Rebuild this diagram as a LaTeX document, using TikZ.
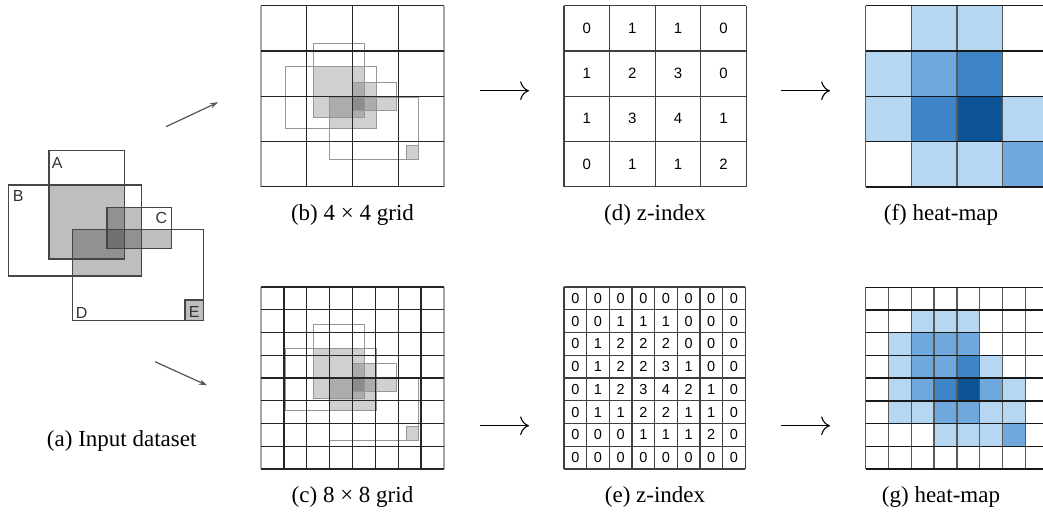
\documentclass[tikz,border=0pt]{standalone}
\usepackage{fontspec}
\setmainfont{Liberation Serif}
\newfontfamily\arialf{Liberation Sans}
\usetikzlibrary{arrows.meta}
\definecolor{hz0}{RGB}{255,255,255}
\definecolor{hz1}{RGB}{182,215,242}
\definecolor{hz2}{RGB}{111,168,220}
\definecolor{hz3}{RGB}{61,133,198}
\definecolor{hz4}{RGB}{11,83,148}
\definecolor{dsTwo}{RGB}{190,190,190}
\definecolor{dsThree}{RGB}{145,145,145}
\definecolor{dsFour}{RGB}{112,112,112}
\definecolor{dsLine}{RGB}{70,70,70}
\definecolor{grTwo}{RGB}{208,208,208}
\definecolor{grThree}{RGB}{172,172,172}
\definecolor{grFour}{RGB}{140,140,140}
\definecolor{grLine}{RGB}{150,150,150}
\definecolor{arrowgray}{RGB}{85,85,85}
\newcommand\drawoverlaps{%
  \fill[ovtwo] (49,185) rectangle (124.3,259);
  \fill[ovtwo] (107,207.7) rectangle (141.3,248.7);
  \fill[ovtwo] (72.3,229.3) rectangle (141.3,276);
  \fill[ovtwo] (107,229.3) rectangle (171.3,248.7);
  \fill[ovtwo] (185,300) rectangle (203.3,320.3);
  \fill[ovthree] (107,207.7) rectangle (124.3,248.7);
  \fill[ovthree] (72.3,229.3) rectangle (124.3,259);
  \fill[ovthree] (107,229.3) rectangle (141.3,248.7);
  \fill[ovfour] (107,229.3) rectangle (124.3,248.7);
  \draw[ovline] (49,150.7) rectangle (124.3,259);
  \draw[ovline] (8.7,185) rectangle (141.3,276);
  \draw[ovline] (107,207.7) rectangle (171.3,248.7);
  \draw[ovline] (72.3,229.3) rectangle (203.3,320.3);
  \draw[ovline] (185,300) rectangle (203.3,320.3);
}
\begin{document}
\begin{tikzpicture}[x=1pt,y=-1pt,
  captxt/.style={font=\fontsize{23}{27}\selectfont, inner sep=0pt},
  numbig/.style={font=\arialf\fontsize{15}{17}\selectfont, inner sep=0pt},
  num/.style={font=\arialf\fontsize{14.5}{17}\selectfont, inner sep=0pt},
  lbl/.style={font=\arialf\fontsize{16}{18}\selectfont, inner sep=0pt, text=black!80},
  gridline/.style={line width=1.3pt, draw=black!85},
  edgeline/.style={line width=1.1pt, draw=black!35},
  zline/.style={line width=1.3pt, draw=black!75},
  hline/.style={line width=1.4pt, draw=black!90},
  hvline/.style={line width=1.4pt, draw=black!65},
  diag/.style={draw=arrowgray, line width=1.2pt, -{Stealth[length=8pt,width=5.5pt]}},
  longarr/.style={draw=black, line width=1.1pt, -{To[scale=2.2]}}]
\clip (0,0) rectangle (1043,513);
\fill[white] (0,0) rectangle (1043,513);

% (a) input dataset
\begin{scope}[ovtwo/.style={fill=dsTwo}, ovthree/.style={fill=dsThree},
  ovfour/.style={fill=dsFour}, ovline/.style={draw=dsLine, line width=1.2pt}]
  \drawoverlaps
\end{scope}
\node[lbl] (labA) at (57.3,162.7) {A};
\node[lbl] (labB) at (18.3,195.7) {B};
\node[lbl] (labC) at (161.3,218.3) {C};
\node[lbl] (labD) at (81.7,312.7) {D};
\node[lbl] (labE) at (194.3,311.7) {E};
\node[captxt] (capa) at (121.7,441) {(a) Input dataset};

% (b) 4x4 grid
\begin{scope}[shift={(279.8,-59.6)}, scale=0.683,
  ovtwo/.style={fill=grTwo}, ovthree/.style={fill=grThree},
  ovfour/.style={fill=grFour}, ovline/.style={draw=grLine, line width=1.1pt}]
  \drawoverlaps
\end{scope}
\draw[edgeline] (261,5.7) -- (261,186.7) (444,5.7) -- (444,186.7);
\foreach \i in {0,...,4} \draw[gridline] (261,{5.7+\i*45.25}) -- (444,{5.7+\i*45.25});
\foreach \i in {1,...,3} \draw[gridline] ({261+\i*45.75},5.7) -- ({261+\i*45.75},186.7);
\node[captxt] (capb) at (352.5,215) {(b) 4 × 4 grid};

% (c) 8x8 grid
\begin{scope}[shift={(279.8,221.9)}, scale=0.683,
  ovtwo/.style={fill=grTwo}, ovthree/.style={fill=grThree},
  ovfour/.style={fill=grFour}, ovline/.style={draw=grLine, line width=1.1pt}]
  \drawoverlaps
\end{scope}
\draw[edgeline] (261,287) -- (261,469) (444,287) -- (444,469);
\foreach \i in {0,...,8} \draw[gridline] (261,{287+\i*22.75}) -- (444,{287+\i*22.75});
\foreach \i in {1,...,7} \draw[gridline] ({261+\i*22.875},287) -- ({261+\i*22.875},469);
\node[captxt] (capc) at (352.5,497) {(c) 8 × 8 grid};

% (d) z-index 4x4
\foreach \row [count=\r from 0] in {{0,1,1,0},{1,2,3,0},{1,3,4,1},{0,1,1,2}} {
  \foreach \v [count=\c from 0] in \row {
    \node[numbig] (zd-\r-\c) at ({564+(\c+0.5)*45.575},{5.7+(\r+0.5)*45.25}) {\v};
  }
}
\foreach \i in {0,...,4} \draw[zline] (564,{5.7+\i*45.25}) -- (746.3,{5.7+\i*45.25});
\foreach \i in {0,...,4} \draw[zline] ({564+\i*45.575},5.7) -- ({564+\i*45.575},186.7);
\node[captxt] (capd) at (655,215) {(d) z-index};

% (e) z-index 8x8
\foreach \row [count=\r from 0] in {{0,0,0,0,0,0,0,0},{0,0,1,1,1,0,0,0},{0,1,2,2,2,0,0,0},{0,1,2,2,3,1,0,0},{0,1,2,3,4,2,1,0},{0,1,1,2,2,1,1,0},{0,0,0,1,1,1,2,0},{0,0,0,0,0,0,0,0}} {
  \foreach \v [count=\c from 0] in \row {
    \node[num] (ze-\r-\c) at ({564+(\c+0.5)*22.65},{287+(\r+0.5)*22.75}) {\v};
  }
}
\foreach \i in {0,...,8} \draw[zline] (564,{287+\i*22.75}) -- (745.2,{287+\i*22.75});
\foreach \i in {0,...,8} \draw[zline] ({564+\i*22.65},287) -- ({564+\i*22.65},469);
\node[captxt] (cape) at (655,497) {(e) z-index};

% (f) heat-map 4x4
\foreach \row [count=\r from 0] in {{0,1,1,0},{1,2,3,0},{1,3,4,1},{0,1,1,2}} {
  \foreach \v [count=\c from 0] in \row {
    \fill[hz\v] ({865.7+\c*45.6},{5.7+\r*45.3}) rectangle ({865.7+(\c+1)*45.6},{5.7+(\r+1)*45.3});
  }
}
\foreach \i in {0,...,4} \draw[hvline] ({865.7+\i*45.6},5.7) -- ({865.7+\i*45.6},186.9);
\foreach \i in {0,...,4} \draw[hline] (865.7,{5.7+\i*45.3}) -- (1048.1,{5.7+\i*45.3});
\node[captxt] (capf) at (941,215) {(f) heat-map};

% (g) heat-map 8x8
\foreach \row [count=\r from 0] in {{0,0,0,0,0,0,0,0},{0,0,1,1,1,0,0,0},{0,1,2,2,2,0,0,0},{0,1,2,2,3,1,0,0},{0,1,2,3,4,2,1,0},{0,1,1,2,2,1,1,0},{0,0,0,1,1,1,2,0},{0,0,0,0,0,0,0,0}} {
  \foreach \v [count=\c from 0] in \row {
    \fill[hz\v] ({865.7+\c*22.8},{287.3+\r*22.7}) rectangle ({865.7+(\c+1)*22.8},{287.3+(\r+1)*22.7});
  }
}
\foreach \i in {0,...,8} \draw[hvline] ({865.7+\i*22.8},287.3) -- ({865.7+\i*22.8},468.9);
\foreach \i in {0,...,8} \draw[hline] (865.7,{287.3+\i*22.7}) -- (1048.1,{287.3+\i*22.7});
\node[captxt] (capg) at (941,497) {(g) heat-map};

% arrows
\coordinate (d1s) at (166,126.7);
\coordinate (d1e) at (218,102.3);
\coordinate (d2s) at (155,361.7);
\coordinate (d2e) at (207,385.3);
\draw[diag] (d1s) -- (d1e);
\draw[diag] (d2s) -- (d2e);
\coordinate (h1s) at (480,90.7);
\coordinate (h1e) at (529,90.7);
\coordinate (h2s) at (781,90.7);
\coordinate (h2e) at (830,90.7);
\coordinate (h3s) at (480,425.7);
\coordinate (h3e) at (529,425.7);
\coordinate (h4s) at (781,425.7);
\coordinate (h4e) at (830,425.7);
\draw[longarr] (h1s) -- (h1e);
\draw[longarr] (h2s) -- (h2e);
\draw[longarr] (h3s) -- (h3e);
\draw[longarr] (h4s) -- (h4e);
\end{tikzpicture}
\end{document}
